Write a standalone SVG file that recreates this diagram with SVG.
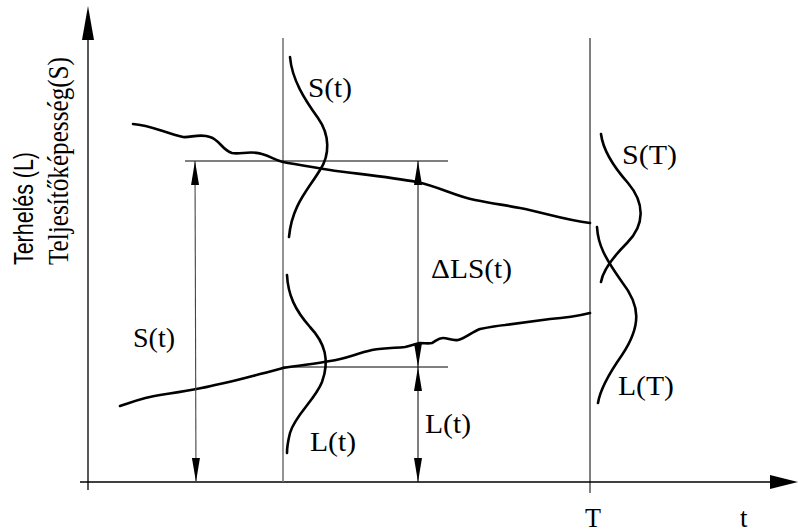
<svg xmlns="http://www.w3.org/2000/svg" width="798" height="532" viewBox="0 0 798 532">
<style>
.axis{stroke:#000;stroke-width:1.3;fill:none}
.guide{stroke:#777;stroke-width:1.6;fill:none}
.thin{stroke:#000;stroke-width:1;fill:none}
.dim{stroke:#444;stroke-width:1.1;fill:none}
.curve{stroke:#000;stroke-width:2.6;fill:none;stroke-linecap:round;stroke-linejoin:round}
.lbl{font-family:"Liberation Serif","Times New Roman",serif;font-size:27px;fill:#000}
.ylbl1{font-family:"Liberation Sans",Arial,sans-serif;font-size:28px;fill:#000}
.ylbl2{font-family:"Liberation Serif","Times New Roman",serif;font-size:29px;fill:#000}
</style>
<defs>
<marker id="ah" viewBox="0 0 24 9" refX="24" refY="4.5" markerWidth="24" markerHeight="9" markerUnits="userSpaceOnUse" orient="auto-start-reverse">
<path d="M0,0.5 L24,4.5 L0,8.5 Z" fill="#000"/>
</marker>
</defs>
<rect width="798" height="532" fill="#fff"/>

<g id="axes">
<line class="axis" x1="88" y1="38" x2="88" y2="490"/>
<polygon points="82,40 88,6 94,40" fill="#000"/>
<line class="axis" x1="80" y1="482" x2="772" y2="482"/>
<polygon points="770,475 798,482 770,489" fill="#000"/>
<text class="ylbl1" transform="translate(33,265) rotate(-90)" textLength="113" lengthAdjust="spacingAndGlyphs">Terhelés (L)</text>
<text class="ylbl2" transform="translate(68,265) rotate(-90)" textLength="208" lengthAdjust="spacingAndGlyphs">Teljesítőképesség(S)</text>
<text class="lbl" x="585" y="527" textLength="16" lengthAdjust="spacingAndGlyphs">T</text>
<text class="lbl" x="740" y="527">t</text>
</g>

<g id="time-lines">
<line class="guide" x1="283" y1="38" x2="283" y2="482"/>
<line class="thin" x1="590" y1="38" x2="590" y2="493"/>
</g>

<g id="mean-curves">
<path id="strength-mean" class="curve" d="M133,124 C150,125 165,133 183,137 C190,138 200,133 210,137 C220,140 222,150 232,153 C240,155 250,150 262,154 C272,157 275,160 283,162 C300,165 310,167 330,170 C350,173 390,177 417,182 C440,187 455,196 475,200 C495,204 505,205 520,208 C545,213 565,220 590,223"/>
<path id="load-mean" class="curve" d="M120,406 C135,401 145,397 160,395 C180,392 200,389 215,385 C235,381 245,378 260,374 C270,372 275,370 283,368 C300,365 315,364 330,361 C345,359 355,354 372,350 C385,348 395,348 405,347 C410,346 415,344 420,343 C425,343 428,344 432,343 C436,341 438,338 443,338 C448,338 452,341 458,340 C466,338 472,332 480,329 C490,327 495,326 505,325 C520,323 535,321 550,319 C565,318 578,316 590,313"/>
</g>

<g id="dist-S-t">
<path class="curve" d="M290,57 C292,80 305,100 318,118 C330,135 330,155 320,170 C308,190 292,205 289,237"/>
<text class="lbl" x="308" y="97" textLength="44" lengthAdjust="spacingAndGlyphs">S(t)</text>
</g>
<g id="dist-L-t">
<path class="curve" d="M287,275 C288,295 295,310 310,327 C325,343 330,360 322,382 C315,400 295,415 290,433 C287,445 287,450 287,453"/>
<text class="lbl" x="310" y="451" textLength="46" lengthAdjust="spacingAndGlyphs">L(t)</text>
</g>
<g id="dist-S-T">
<path class="curve" d="M601,134 C603,150 612,165 628,183 C645,203 645,225 627,243 C612,258 603,270 601,282"/>
<text class="lbl" x="622" y="164" textLength="55" lengthAdjust="spacingAndGlyphs">S(T)</text>
</g>
<g id="dist-L-T">
<path class="curve" d="M597,227 C598,245 605,258 622,282 C640,305 642,325 622,355 C608,375 600,390 598,403"/>
<text class="lbl" x="618" y="395" textLength="56" lengthAdjust="spacingAndGlyphs">L(T)</text>
</g>

<g id="connectors">
<line class="thin" x1="185" y1="161" x2="448" y2="161"/>
<line class="thin" x1="283" y1="367" x2="448" y2="367"/>
<line class="dim" x1="195" y1="161" x2="196" y2="482" marker-start="url(#ah)" marker-end="url(#ah)"/>
<line class="thin" x1="418" y1="161" x2="418" y2="367" marker-start="url(#ah)" marker-end="url(#ah)"/>
<line class="thin" x1="418" y1="367" x2="418" y2="482" marker-start="url(#ah)" marker-end="url(#ah)"/>
</g>

<g id="dimension-labels">
<text class="lbl" x="133" y="347" textLength="42" lengthAdjust="spacingAndGlyphs">S(t)</text>
<text class="lbl" x="431" y="278" textLength="81" lengthAdjust="spacingAndGlyphs">ΔLS(t)</text>
<text class="lbl" x="425" y="433" textLength="46" lengthAdjust="spacingAndGlyphs">L(t)</text>
</g>
</svg>
